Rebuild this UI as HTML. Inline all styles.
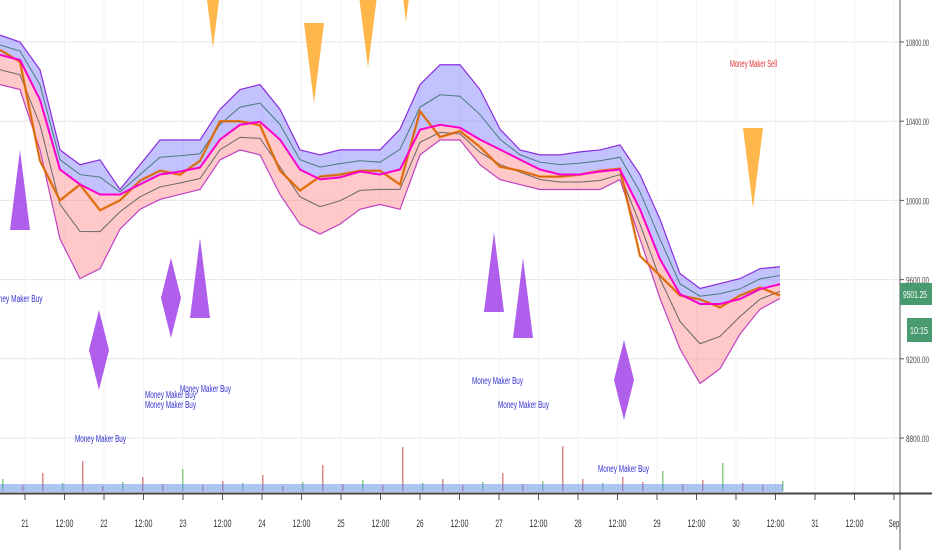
<!DOCTYPE html>
<html><head><meta charset="utf-8"><style>
body{margin:0;background:#fff;}
svg{display:block;font-family:"Liberation Sans",sans-serif;}
</style></head><body>
<svg id="c" width="932" height="550" xmlns="http://www.w3.org/2000/svg"></svg>
<script>
const priceTicks=[10800,10400,10000,9600,9200,8800];
const timeLabels=["21","12:00","22","12:00","23","12:00","24","12:00","25","12:00","26","12:00","27","12:00","28","12:00","29","12:00","30","12:00","31","12:00","Sep"];
const upperBand=[10835,10800,10660,10255,10180,10205,10055,10180,10305,10305,10305,10460,10560,10585,10460,10255,10230,10255,10255,10255,10360,10585,10685,10685,10560,10360,10255,10230,10230,10245,10255,10280,10130,9905,9630,9555,9580,9605,9655,9665];
const midLine=[10735,10709,10508,10156,10081,10030,10030,10081,10131,10146,10166,10307,10382,10397,10307,10156,10106,10116,10146,10131,10156,10357,10382,10367,10307,10257,10206,10156,10131,10131,10146,10156,9955,9703,9527,9477,9477,9502,9552,9577];
const lowerBand=[10585,10560,10255,9805,9605,9655,9855,9955,10005,10030,10055,10205,10255,10230,10030,9880,9830,9880,9955,9980,9955,10230,10305,10305,10180,10105,10080,10055,10055,10055,10055,10105,9805,9505,9250,9075,9150,9325,9450,9505];
const closePrice=[10760,10700,10200,10000,10080,9950,10000,10100,10150,10130,10200,10400,10400,10380,10150,10050,10120,10130,10150,10150,10080,10450,10320,10350,10270,10170,10150,10120,10120,10130,10150,10160,9720,9620,9520,9500,9460,9520,9560,9520];
const volume=[12,6,18,8,30,5,9,14,7,22,6,10,8,16,5,9,26,7,11,6,44,8,12,6,9,18,7,10,45,12,8,14,9,20,7,11,28,8,6,10];
const buyX=[20,200,494,523], buyTop=[150,238,232,258];
const diaX=[99,171,624], diaTop=[310,258,340];
const sellX=[213,314,368,406,753], sellBottom=[48,103,68,22,208];
const NS="http://www.w3.org/2000/svg", svg=document.getElementById('c');
function yS(p){return 42+(10800-p)*79.2/400;}
function xS(i){return i*20;}
function xT(i){return 25+i*39.5;}
function mk(t,a,parent){const e=document.createElementNS(NS,t);for(const k in a)e.setAttribute(k,a[k]);(parent||svg).appendChild(e);return e;}
priceTicks.forEach((p,i)=>{const l=mk('line',{x1:0,x2:900,y1:yS(p),y2:yS(p),stroke:'#e6e6e6'});


mk('line',{x1:900,x2:904,y1:yS(p),y2:yS(p),stroke:'#555'});
const t=mk('text',{x:906,y:yS(p)+4,'font-size':9,fill:'#444',textLength:23,lengthAdjust:'spacingAndGlyphs'});t.textContent=p.toFixed(2);

});
timeLabels.forEach((s,i)=>{const x=xT(i);mk('line',{x1:x,x2:x,y1:0,y2:493,stroke:'#f3f3f3'});
mk('line',{x1:x,x2:x,y1:494,y2:500,stroke:'#555'});
const t=mk('text',{x:x,y:527,'font-size':11,fill:'#333','text-anchor':'middle',textLength:s.length*3.6,lengthAdjust:'spacingAndGlyphs'});t.textContent=s;

});
function pts(arr){return arr.map((v,i)=>xS(i)+','+yS(v)).join(' ');}
function band(a,b,fill){return mk('polygon',{points:pts(a)+' '+b.map((v,i)=>[xS(i),yS(v)]).reverse().map(q=>q.join(',')).join(' '),fill:fill});}
const ub=band(upperBand,midLine,'rgba(120,120,255,0.45)');


const lb=band(midLine,lowerBand,'rgba(255,120,120,0.4)');


const u1=mk('polyline',{points:pts(upperBand),fill:'none',stroke:'#8a2be2','stroke-width':1.2});


const l1=mk('polyline',{points:pts(lowerBand),fill:'none',stroke:'#c040c0','stroke-width':1.2});


const innerU=midLine.map((m,i)=>(m+upperBand[i])/2), innerL=midLine.map((m,i)=>(m+lowerBand[i])/2);
const g1=mk('polyline',{points:pts(innerU),fill:'none',stroke:'#4a7a7a','stroke-width':1});


const g2=mk('polyline',{points:pts(innerL),fill:'none',stroke:'#666','stroke-width':1});


const cp=mk('polyline',{points:pts(closePrice),fill:'none',stroke:'#333','stroke-width':1});


const ol=mk('polyline',{points:pts(closePrice),fill:'none',stroke:'#f07000','stroke-width':2.5,opacity:0.8});


const ml=mk('polyline',{points:pts(midLine),fill:'none',stroke:'#ff00cc','stroke-width':2});


volume.forEach((v,i)=>{const r=mk('rect',{x:xS(i)+2,y:491-v,width:1.5,height:v,fill:i%3?'#d88':'#8c8'});

});
const va=mk('rect',{x:0,y:484,width:783,height:8,fill:'rgba(90,140,230,0.5)'});


buyX.forEach((x,i)=>{const t=buyTop[i];const p=mk('polygon',{points:`${x},${t} ${x+10},${t+80} ${x-10},${t+80}`,fill:'rgba(150,40,230,0.75)'});

});
diaX.forEach((x,i)=>{const t=diaTop[i];const p=mk('polygon',{points:`${x},${t} ${x+10},${t+40} ${x},${t+80} ${x-10},${t+40}`,fill:'rgba(150,40,230,0.75)'});

});
sellX.forEach((x,i)=>{const b=sellBottom[i];const p=mk('polygon',{points:`${x-10},${b-80} ${x+10},${b-80} ${x},${b}`,fill:'rgba(255,165,30,0.8)'});

});
const labels=[[-5,302,'oney Maker Buy'],[75,442,'Money Maker Buy'],[145,398,'Money Maker Buy'],[145,408,'Money Maker Buy'],[180,392,'Money Maker Buy'],[472,384,'Money Maker Buy'],[498,408,'Money Maker Buy'],[598,472,'Money Maker Buy']];
labels.forEach(l=>{const t=mk('text',{x:l[0],y:l[1],'font-size':10,fill:'#3030d0',textLength:l[2].length*3.4,lengthAdjust:'spacingAndGlyphs'});t.textContent=l[2];

});
const sl=mk('text',{x:730,y:67,'font-size':10,fill:'#e03030',textLength:47,lengthAdjust:'spacingAndGlyphs'});sl.textContent='Money Maker Sell';


const ax=mk('line',{x1:900,x2:900,y1:0,y2:550,stroke:'#555'});


const bx=mk('line',{x1:0,x2:932,y1:493.5,y2:493.5,stroke:'#444','stroke-width':2});


const pb=mk('rect',{x:900,y:283,width:32,height:22,fill:'#4a9a70'});


const pt=mk('text',{x:903,y:298,'font-size':10,fill:'#fff',textLength:24,lengthAdjust:'spacingAndGlyphs'});pt.textContent='9501.25';
const tb=mk('rect',{x:907,y:318,width:25,height:24,fill:'#4a9a70'});


const tt=mk('text',{x:910,y:334,'font-size':10,fill:'#fff',textLength:18,lengthAdjust:'spacingAndGlyphs'});tt.textContent='10:15';
</script>
</body></html>
